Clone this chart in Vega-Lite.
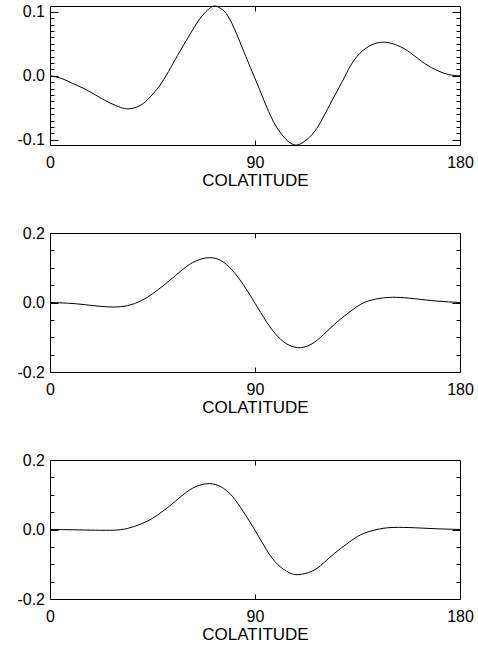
{
  "$schema": "https://vega.github.io/schema/vega-lite/v6.json",
  "background": "white",
  "padding": {"left": 16, "top": 3, "right": 5, "bottom": 5},
  "spacing": 35,
  "config": {
    "view": {"stroke": "black", "strokeWidth": 1},
    "axis": {
      "domain": false, "grid": false,
      "labelFont": "Liberation Sans", "labelFontSize": 16, "labelColor": "black",
      "titleFont": "Liberation Sans", "titleFontSize": 17, "titleFontWeight": "normal", "titleColor": "black",
      "tickColor": "black", "tickWidth": 1, "labelOverlap": false, "labelFlush": false
    }
  },
  "datasets": {
    "p1": [
      {"colat": 0, "value": 0}, {"colat": 5, "value": -0.004}, {"colat": 10, "value": -0.012},
      {"colat": 15, "value": -0.020}, {"colat": 20, "value": -0.030}, {"colat": 25, "value": -0.040},
      {"colat": 30, "value": -0.048}, {"colat": 33.5, "value": -0.0515}, {"colat": 37, "value": -0.050},
      {"colat": 41, "value": -0.043}, {"colat": 45, "value": -0.029}, {"colat": 49, "value": -0.011},
      {"colat": 53, "value": 0.013}, {"colat": 57, "value": 0.038}, {"colat": 62, "value": 0.068},
      {"colat": 66, "value": 0.090}, {"colat": 69, "value": 0.102}, {"colat": 72, "value": 0.109},
      {"colat": 75, "value": 0.105}, {"colat": 78, "value": 0.094}, {"colat": 82, "value": 0.065},
      {"colat": 86, "value": 0.030}, {"colat": 90, "value": -0.004}, {"colat": 94, "value": -0.039},
      {"colat": 98, "value": -0.071}, {"colat": 103, "value": -0.097}, {"colat": 107.5, "value": -0.108},
      {"colat": 111, "value": -0.104}, {"colat": 115, "value": -0.092}, {"colat": 119, "value": -0.071},
      {"colat": 123, "value": -0.044}, {"colat": 128, "value": -0.011}, {"colat": 132, "value": 0.016},
      {"colat": 136, "value": 0.035}, {"colat": 141, "value": 0.048}, {"colat": 146, "value": 0.0525},
      {"colat": 151, "value": 0.0495}, {"colat": 157, "value": 0.039}, {"colat": 163, "value": 0.023},
      {"colat": 169, "value": 0.010}, {"colat": 175, "value": 0.002}, {"colat": 180, "value": 0}
    ],
    "p2": [
      {"colat": 0, "value": 0}, {"colat": 8, "value": -0.002}, {"colat": 15, "value": -0.006},
      {"colat": 22, "value": -0.011}, {"colat": 28, "value": -0.013}, {"colat": 34, "value": -0.009},
      {"colat": 40, "value": 0.005}, {"colat": 45, "value": 0.025}, {"colat": 50, "value": 0.050},
      {"colat": 55, "value": 0.077}, {"colat": 60, "value": 0.104}, {"colat": 65, "value": 0.122},
      {"colat": 70, "value": 0.129}, {"colat": 75, "value": 0.121}, {"colat": 80, "value": 0.093},
      {"colat": 85, "value": 0.050}, {"colat": 90, "value": -0.002}, {"colat": 95, "value": -0.055},
      {"colat": 100, "value": -0.098}, {"colat": 105, "value": -0.123}, {"colat": 110, "value": -0.130},
      {"colat": 115, "value": -0.119}, {"colat": 120, "value": -0.093}, {"colat": 125, "value": -0.062},
      {"colat": 130, "value": -0.035}, {"colat": 135, "value": -0.011}, {"colat": 140, "value": 0.005},
      {"colat": 146, "value": 0.013}, {"colat": 152, "value": 0.015}, {"colat": 160, "value": 0.011},
      {"colat": 170, "value": 0.004}, {"colat": 180, "value": 0}
    ],
    "p3": [
      {"colat": 0, "value": 0}, {"colat": 10, "value": -0.0008}, {"colat": 20, "value": -0.002},
      {"colat": 28, "value": -0.002}, {"colat": 34, "value": 0.003}, {"colat": 40, "value": 0.016},
      {"colat": 45, "value": 0.032}, {"colat": 50, "value": 0.055}, {"colat": 55, "value": 0.081},
      {"colat": 60, "value": 0.108}, {"colat": 65, "value": 0.126}, {"colat": 70, "value": 0.132},
      {"colat": 75, "value": 0.123}, {"colat": 80, "value": 0.096}, {"colat": 85, "value": 0.050},
      {"colat": 90, "value": -0.002}, {"colat": 95, "value": -0.058}, {"colat": 100, "value": -0.101},
      {"colat": 105, "value": -0.124}, {"colat": 109, "value": -0.130}, {"colat": 115, "value": -0.120},
      {"colat": 120, "value": -0.097}, {"colat": 125, "value": -0.068}, {"colat": 130, "value": -0.043},
      {"colat": 135, "value": -0.020}, {"colat": 140, "value": -0.006}, {"colat": 145, "value": 0.002},
      {"colat": 151, "value": 0.006}, {"colat": 160, "value": 0.005}, {"colat": 170, "value": 0.002},
      {"colat": 180, "value": 0}
    ]
  },
  "vconcat": [
    {
      "width": 410, "height": 139,
      "data": {"name": "p1"},
      "resolve": {"axis": {"x": "independent", "y": "independent"}},
      "layer": [
        {"mark": {"type": "line", "color": "black", "strokeWidth": 1, "interpolate": "natural"},
         "encoding": {
           "x": {"field": "colat", "type": "quantitative", "scale": {"domain": [0, 180], "nice": false, "zero": false},
                 "axis": {"orient": "bottom", "values": [0, 90, 180], "tickSize": -5, "labelPadding": 14.5, "title": "COLATITUDE", "titlePadding": 2}},
           "y": {"field": "value", "type": "quantitative", "scale": {"domain": [-0.108, 0.109], "nice": false, "zero": false},
                 "axis": {"orient": "left", "values": [-0.09,-0.08,-0.07,-0.06,-0.05,-0.04,-0.03,-0.02,-0.01,0.01,0.02,0.03,0.04,0.05,0.06,0.07,0.08,0.09], "tickSize": -4, "labels": false, "title": null}}
         }},
        {"mark": {"type": "line", "opacity": 0},
         "encoding": {
           "x": {"field": "colat", "type": "quantitative", "axis": {"orient": "top", "values": [90], "tickSize": -5, "labels": false, "title": null}},
           "y": {"field": "value", "type": "quantitative",
                 "axis": {"orient": "right", "values": [-0.09,-0.08,-0.07,-0.06,-0.05,-0.04,-0.03,-0.02,-0.01,0.01,0.02,0.03,0.04,0.05,0.06,0.07,0.08,0.09], "tickSize": -4, "labels": false, "title": null}}
         }},
        {"mark": {"type": "line", "opacity": 0},
         "encoding": {
           "x": {"field": "colat", "type": "quantitative", "axis": null},
           "y": {"field": "value", "type": "quantitative",
                 "axis": {"orient": "left", "values": [-0.1, 0, 0.1], "tickSize": -8, "labelPadding": 13.5, "title": null,
                          "labelExpr": "datum.value < 0 ? '-' + format(-datum.value, '.1f') : format(datum.value, '.1f')"}}
         }},
        {"mark": {"type": "line", "opacity": 0},
         "encoding": {
           "x": {"field": "colat", "type": "quantitative", "axis": null},
           "y": {"field": "value", "type": "quantitative",
                 "axis": {"orient": "right", "values": [-0.1, 0, 0.1], "tickSize": -8, "labels": false, "title": null}}
         }}
      ]
    },
    {
      "width": 410, "height": 139,
      "data": {"name": "p2"},
      "resolve": {"axis": {"x": "independent", "y": "independent"}},
      "layer": [
        {"mark": {"type": "line", "color": "black", "strokeWidth": 1, "interpolate": "natural"},
         "encoding": {
           "x": {"field": "colat", "type": "quantitative", "scale": {"domain": [0, 180], "nice": false, "zero": false},
                 "axis": {"orient": "bottom", "values": [0, 90, 180], "tickSize": -5, "labelPadding": 14.5, "title": "COLATITUDE", "titlePadding": 2}},
           "y": {"field": "value", "type": "quantitative", "scale": {"domain": [-0.2, 0.2], "nice": false, "zero": false},
                 "axis": {"orient": "left", "values": [-0.15, -0.1, -0.05, 0.05, 0.1, 0.15], "tickSize": -4, "labels": false, "title": null}}
         }},
        {"mark": {"type": "line", "opacity": 0},
         "encoding": {
           "x": {"field": "colat", "type": "quantitative", "axis": {"orient": "top", "values": [90], "tickSize": -5, "labels": false, "title": null}},
           "y": {"field": "value", "type": "quantitative",
                 "axis": {"orient": "right", "values": [-0.15, -0.1, -0.05, 0.05, 0.1, 0.15], "tickSize": -4, "labels": false, "title": null}}
         }},
        {"mark": {"type": "line", "opacity": 0},
         "encoding": {
           "x": {"field": "colat", "type": "quantitative", "axis": null},
           "y": {"field": "value", "type": "quantitative",
                 "axis": {"orient": "left", "values": [-0.2, 0, 0.2], "tickSize": -8, "labelPadding": 13.5, "title": null,
                          "labelExpr": "datum.value < 0 ? '-' + format(-datum.value, '.1f') : format(datum.value, '.1f')"}}
         }},
        {"mark": {"type": "line", "opacity": 0},
         "encoding": {
           "x": {"field": "colat", "type": "quantitative", "axis": null},
           "y": {"field": "value", "type": "quantitative",
                 "axis": {"orient": "right", "values": [-0.2, 0, 0.2], "tickSize": -8, "labels": false, "title": null}}
         }}
      ]
    },
    {
      "width": 410, "height": 139,
      "data": {"name": "p3"},
      "resolve": {"axis": {"x": "independent", "y": "independent"}},
      "layer": [
        {"mark": {"type": "line", "color": "black", "strokeWidth": 1, "interpolate": "natural"},
         "encoding": {
           "x": {"field": "colat", "type": "quantitative", "scale": {"domain": [0, 180], "nice": false, "zero": false},
                 "axis": {"orient": "bottom", "values": [0, 90, 180], "tickSize": -5, "labelPadding": 14.5, "title": "COLATITUDE", "titlePadding": 2}},
           "y": {"field": "value", "type": "quantitative", "scale": {"domain": [-0.2, 0.2], "nice": false, "zero": false},
                 "axis": {"orient": "left", "values": [-0.15, -0.1, -0.05, 0.05, 0.1, 0.15], "tickSize": -4, "labels": false, "title": null}}
         }},
        {"mark": {"type": "line", "opacity": 0},
         "encoding": {
           "x": {"field": "colat", "type": "quantitative", "axis": {"orient": "top", "values": [90], "tickSize": -5, "labels": false, "title": null}},
           "y": {"field": "value", "type": "quantitative",
                 "axis": {"orient": "right", "values": [-0.15, -0.1, -0.05, 0.05, 0.1, 0.15], "tickSize": -4, "labels": false, "title": null}}
         }},
        {"mark": {"type": "line", "opacity": 0},
         "encoding": {
           "x": {"field": "colat", "type": "quantitative", "axis": null},
           "y": {"field": "value", "type": "quantitative",
                 "axis": {"orient": "left", "values": [-0.2, 0, 0.2], "tickSize": -8, "labelPadding": 13.5, "title": null,
                          "labelExpr": "datum.value < 0 ? '-' + format(-datum.value, '.1f') : format(datum.value, '.1f')"}}
         }},
        {"mark": {"type": "line", "opacity": 0},
         "encoding": {
           "x": {"field": "colat", "type": "quantitative", "axis": null},
           "y": {"field": "value", "type": "quantitative",
                 "axis": {"orient": "right", "values": [-0.2, 0, 0.2], "tickSize": -8, "labels": false, "title": null}}
         }}
      ]
    }
  ]
}
